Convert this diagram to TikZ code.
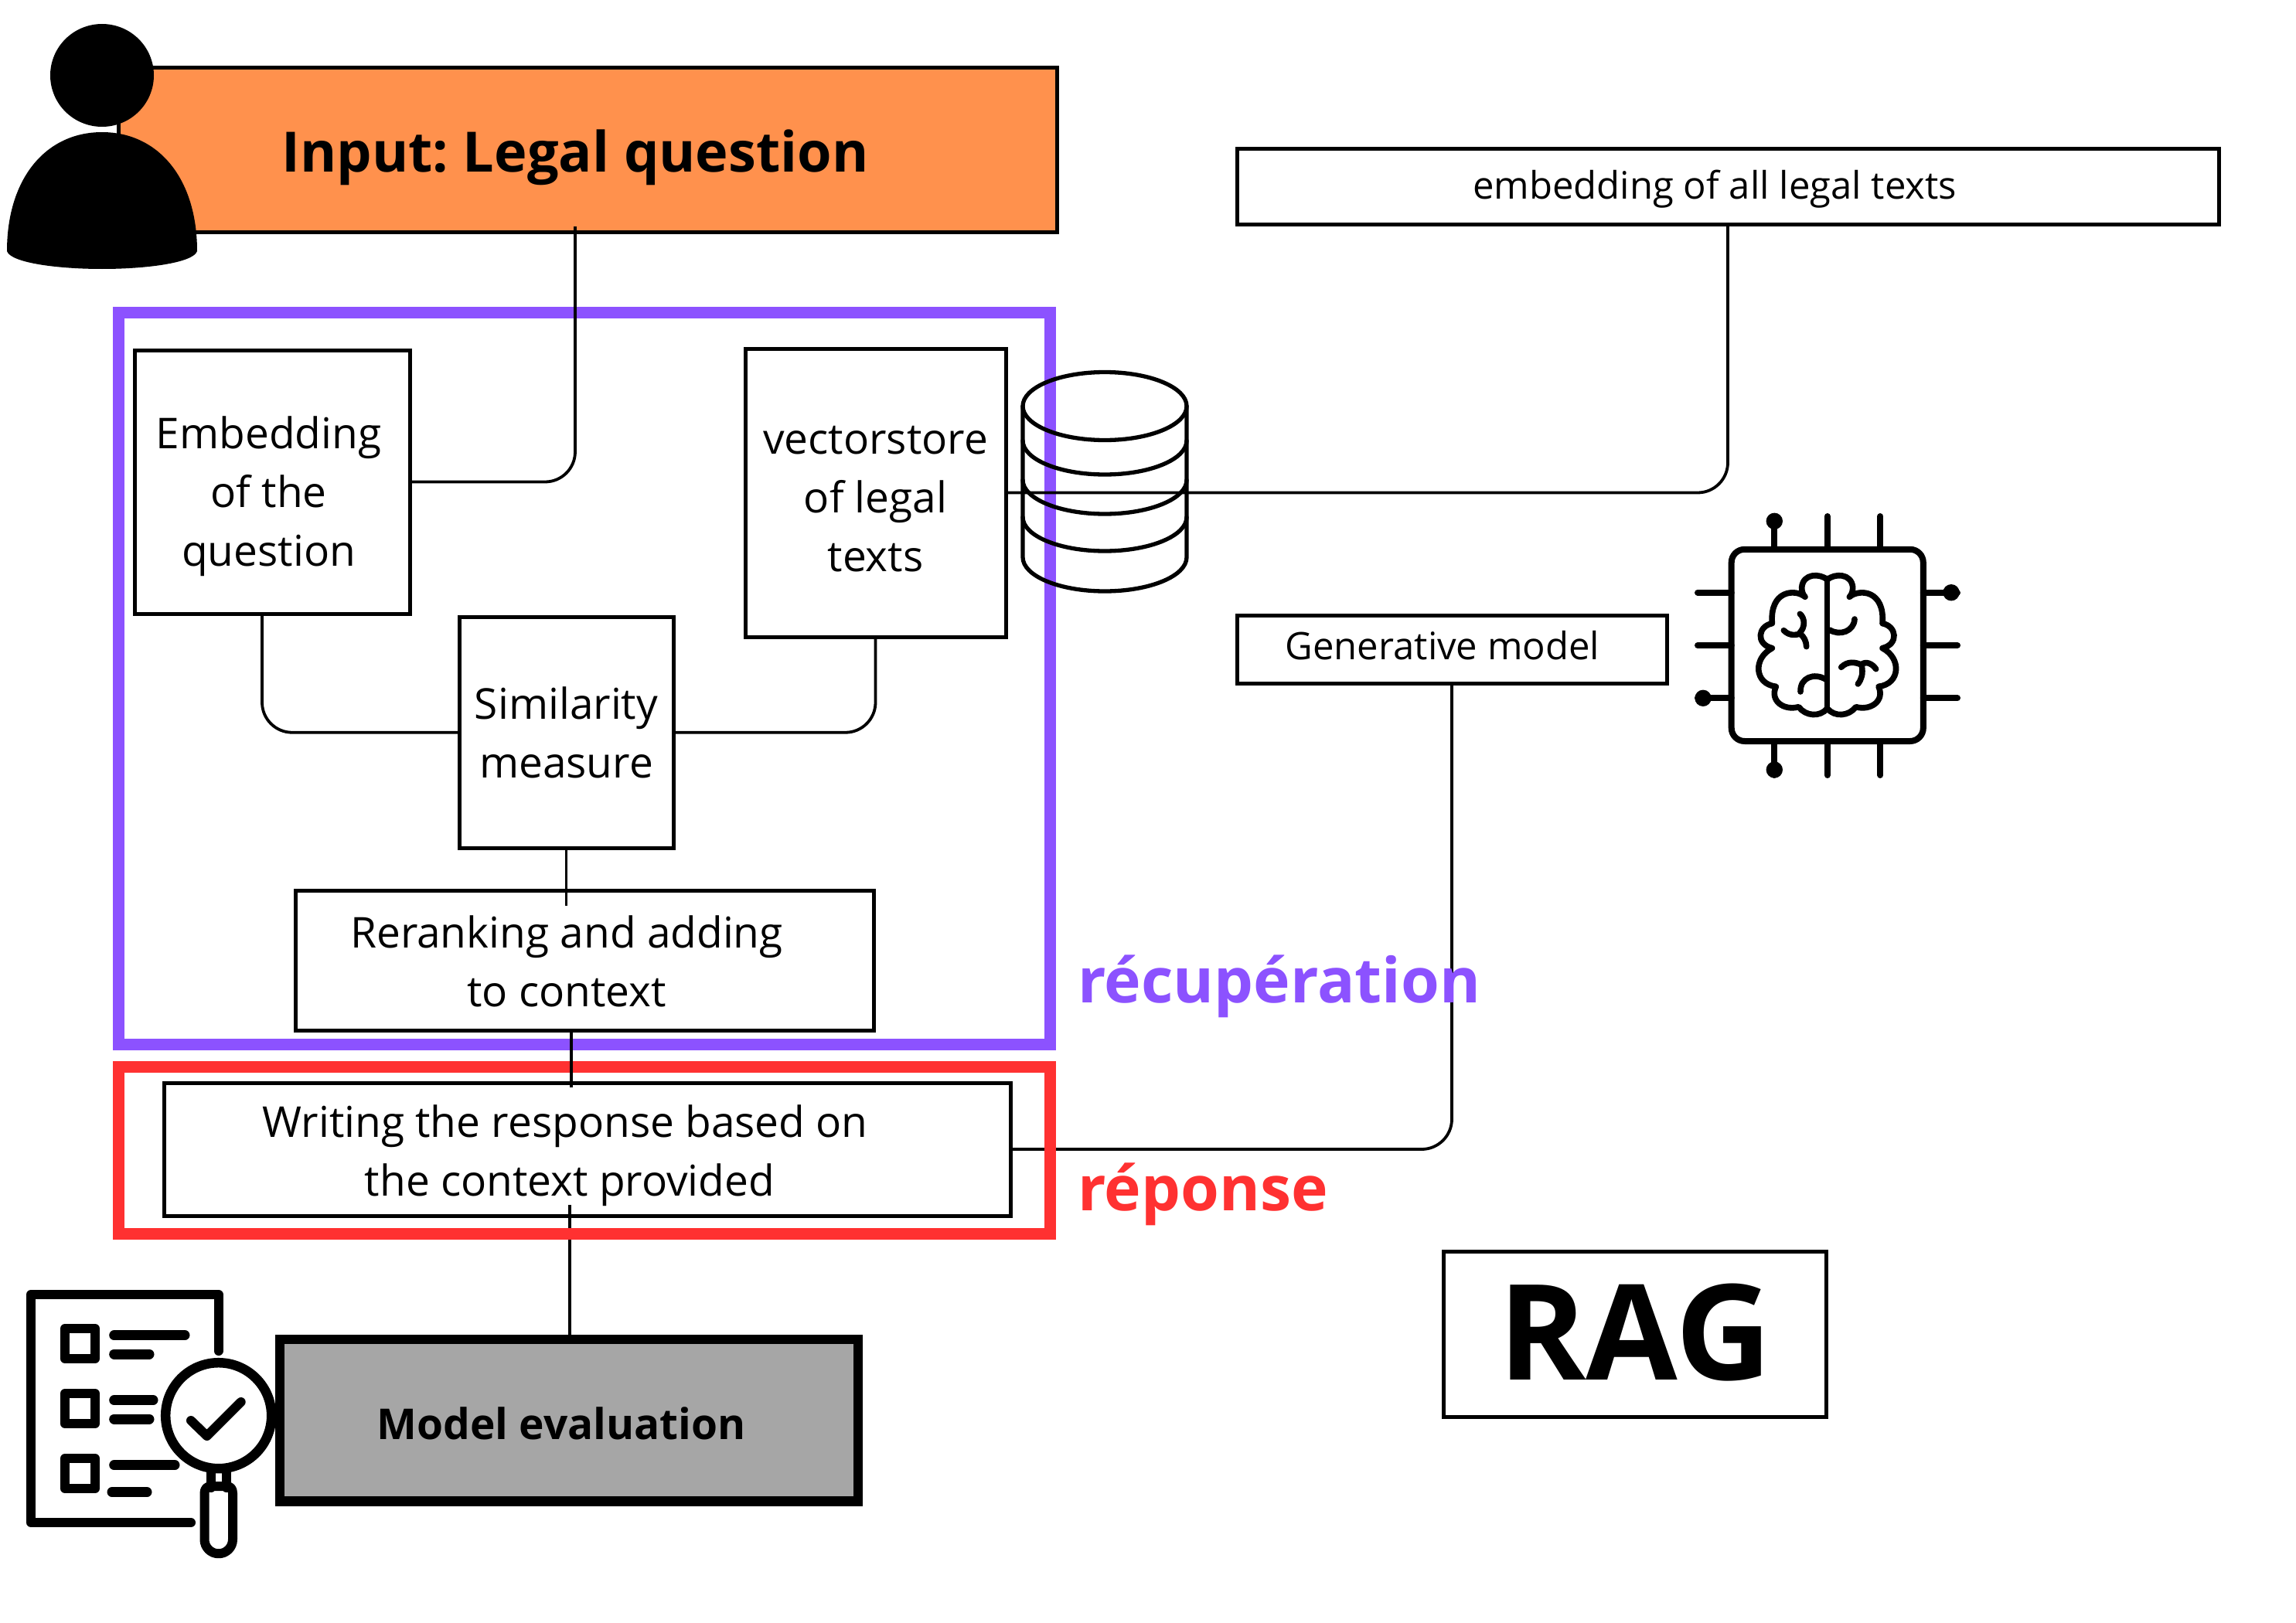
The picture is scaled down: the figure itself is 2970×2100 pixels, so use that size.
\documentclass[tikz,border=0pt]{standalone}
\usepackage{fontspec}
\setmainfont{Open Sans}
\definecolor{orangeb}{HTML}{FF914D}
\definecolor{purpleb}{HTML}{8C52FF}
\definecolor{redb}{HTML}{FF3131}
\definecolor{greyb}{HTML}{A6A6A6}
\tikzset{
  box/.style={draw=black,line width=5pt,inner sep=0pt,outer sep=0pt},
  conn/.style={draw=black,line width=3.8pt,rounded corners=39pt},
  lbl/.style={inner sep=0pt,outer sep=0pt,align=center,anchor=base,font=\frenchspacing\fontsize{55}{76}\selectfont},
  lblsmall/.style={lbl,font=\frenchspacing\fontsize{49}{60}\selectfont},
  headline/.style={lbl,font=\frenchspacing\fontsize{72}{80}\selectfont\bfseries},
  tag/.style={lbl,font=\fontsize{80.5}{90}\selectfont\bfseries},
  icon/.style={draw=black,line cap=round,line join=round},
}
\begin{document}
\begin{tikzpicture}[x=1pt,y=-1pt]
\useasboundingbox (0,0) rectangle (2970,2100);
\fill[white] (0,0) rectangle (2970,2100);
% boxes
\node[box,fill=orangeb,minimum width=1214pt,minimum height=212pt] (input) at (760,194) {};
\node[box,minimum width=355.5pt,minimum height=341pt] (embed) at (352.25,623.5) {};
\node[box,minimum width=337pt,minimum height=373pt] (vec) at (1132.5,637.5) {};
\node[box,minimum width=277pt,minimum height=299.5pt] (sim) at (732.5,947.75) {};
\node[box,minimum width=748pt,minimum height=181pt] (rerank) at (756,1242.5) {};
\node[box,minimum width=1095pt,minimum height=172pt] (writing) at (759.5,1487) {};
\node[box,minimum width=1270pt,minimum height=97.5pt] (alltexts) at (2235,241.25) {};
\node[box,minimum width=556pt,minimum height=88pt] (gen) at (1878,840) {};
\node[box,line width=12.5pt,fill=greyb,minimum width=748pt,minimum height=209.5pt] (evalb) at (736,1837.75) {};
\node[box,minimum width=495pt,minimum height=214pt] (rag) at (2114.5,1726) {};
% free ends
\coordinate (qin) at (744,293);
\coordinate (qemb) at (339,796);
\coordinate (simdown) at (732.5,1172);
\coordinate (rrtop) at (739,1336);
\coordinate (rrend) at (739,1407);
\coordinate (wrtop) at (737,1559);
\coordinate (evtop) at (737,1733);
% connectors under the red frame
\draw[conn] (wrtop) -- (evtop);
\draw[conn] (writing.east) -| (gen.south);
% frames
\node[draw=redb,line width=15pt,inner sep=0pt,outer sep=0pt,minimum width=1205pt,minimum height=216pt] (redframe) at (153.5,1380) [anchor=north west] {};
\node[draw=purpleb,line width=15pt,inner sep=0pt,outer sep=0pt,minimum width=1205pt,minimum height=946.5pt] (purpleframe) at (153.5,404.5) [anchor=north west] {};
% other connectors
\draw[conn] (embed.east) -| (qin);
\draw[conn] (sim.west) -| (qemb);
\draw[conn] (sim.east) -| (vec.south);
\draw[conn] (sim.south) -- (simdown);
\draw[conn] (rrtop) -- (rrend);
\draw[conn] (vec.east) -| (alltexts.south);
% person
\fill[black] (132,97.5) ellipse [x radius=67pt,y radius=66.5pt];
\fill[black] (9,325) .. controls (9,230) and (60,171) .. (132,171) .. controls (204,171) and (255,230) .. (255,325) .. controls (250,340) and (190,348) .. (132,348) .. controls (74,348) and (14,340) .. (9,325) -- cycle;
% database
\begin{scope}[icon,line width=5.3pt]
\draw (1429,525.5) ellipse [x radius=106pt,y radius=44pt];
\draw (1323,525.5) -- (1323,721) arc [start angle=180,end angle=360,x radius=106pt,y radius=44pt] -- (1535,525.5);
\draw (1323,570) arc [start angle=180,end angle=360,x radius=106pt,y radius=44pt];
\draw (1323,621) arc [start angle=180,end angle=360,x radius=106pt,y radius=44pt];
\draw (1323,669) arc [start angle=180,end angle=360,x radius=106pt,y radius=44pt];
\end{scope}
% chip with brain
\begin{scope}[icon,line width=8pt]
\draw[rounded corners=17pt] (2239.7,710.8) rectangle (2487.8,959);
\foreach \px in {2295.3,2363.7,2432.3} {
  \draw (\px,668) -- (\px,710.8);
  \draw (\px,959) -- (\px,1003);
}
\foreach \py in {766.7,835,903.3} {
  \draw (2196,\py) -- (2239.7,\py);
  \draw (2487.8,\py) -- (2532,\py);
}
\fill (2295.3,674.3) circle [radius=10.7pt];
\fill (2295.3,996) circle [radius=10.7pt];
\fill (2203,903.3) circle [radius=10.7pt];
\fill (2524,766.7) circle [radius=10.7pt];
\end{scope}
\begin{scope}[shift={(2160,640)},x=.33333pt,y=-.33333pt,icon,line width=7.6pt]
\draw (611,325) -- (611,835);
\draw (611,330) .. controls (640,305) and (705,305) .. (710,360) .. controls (710,378) and (705,388) .. (697,397)
  .. controls (735,365) and (835,370) .. (825,500)
  .. controls (880,510) and (890,580) .. (825,596)
  .. controls (900,635) and (895,735) .. (810,745)
  .. controls (835,800) and (780,840) .. (722,824)
  .. controls (695,860) and (640,865) .. (611,830);
\draw (611,330) .. controls (582,305) and (517,305) .. (512,360) .. controls (512,378) and (517,388) .. (525,397)
  .. controls (487,365) and (387,370) .. (397,500)
  .. controls (342,510) and (332,580) .. (397,596)
  .. controls (322,635) and (327,735) .. (412,745)
  .. controls (387,800) and (442,840) .. (500,824)
  .. controls (527,860) and (582,865) .. (611,830);
\draw (505,463) .. controls (525,480) and (525,515) .. (505,535);
\draw (442,527) .. controls (465,550) and (490,545) .. (505,540) .. controls (520,550) and (530,570) .. (530,590);
\draw (717,483) .. controls (715,530) and (660,550) .. (620,525);
\draw (507,765) .. controls (505,710) and (560,690) .. (605,717);
\draw (665,670) .. controls (690,645) and (720,650) .. (742,660) .. controls (760,645) and (785,655) .. (800,677);
\draw (745,665) .. controls (750,695) and (745,715) .. (730,735);
\end{scope}
% evaluation icon
\begin{scope}[icon,line width=12pt]
\draw (282.7,1748) -- (282.7,1675) -- (40,1675) -- (40,1970) -- (247,1970);
\draw (84,1719) rectangle (123,1758);
\draw (84,1803) rectangle (123,1842);
\draw (84,1887) rectangle (123,1926);
\draw[line width=13pt] (147.7,1727.7) -- (239,1727.7);
\draw[line width=13pt] (147.7,1752) -- (193,1752);
\draw[line width=13pt] (147.7,1811.7) -- (198,1811.7);
\draw[line width=13pt] (147.7,1836) -- (193,1836);
\draw[line width=13pt] (147.7,1895.7) -- (226,1895.7);
\draw[line width=13pt] (145,1930.7) -- (190,1930.7);
\draw[fill=white,line width=12.5pt] (282.7,1831.7) circle [radius=68.5pt];
\draw (247,1838) -- (267.7,1858) -- (311.7,1814);
\draw (273,1903) -- (273,1925);
\draw (293,1903) -- (293,1925);
\draw (264.5,1992) -- (264.5,1932) .. controls (264.5,1926) and (268,1923) .. (273,1923) -- (293,1923) .. controls (298,1923) and (301,1926) .. (301,1932) -- (301,1992) arc [start angle=360,end angle=180,radius=18.25pt] -- cycle;
\end{scope}
% labels
\node[headline] (tinput) at (744,223) {Input: Legal question};
\node[lbl] (tembed) at (347.6,732) {Embedding\\of the\\question};
\node[lbl] (tvec) at (1132.6,739) {vectorstore\\of legal\\texts};
\node[lbl] (tsim) at (732.5,1006) {Similarity\\measure};
\node[lbl] (trerank) at (733,1302) {Reranking and adding\\to context};
\node[lbl] (twriting) at (731,1547) {Writing the response based on\\\hspace*{12pt}the context provided};
\node[lblsmall] (tall) at (2218,258) {embedding of all legal texts};
\node[lblsmall] (tgen) at (1866,853) {Generative model};
\node[lbl,font=\frenchspacing\fontsize{55}{76}\selectfont\bfseries] (teval) at (726,1862) {Model evaluation};
\node[font=\fontsize{172}{190}\selectfont\bfseries,inner sep=0pt,anchor=base] (trag) at (2115,1785) {RAG};
\node[tag,text=purpleb,anchor=base west] (trec) at (1394,1297) {récupération};
\node[tag,text=redb,anchor=base west] (trep) at (1394,1566) {réponse};
\end{tikzpicture}
\end{document}
